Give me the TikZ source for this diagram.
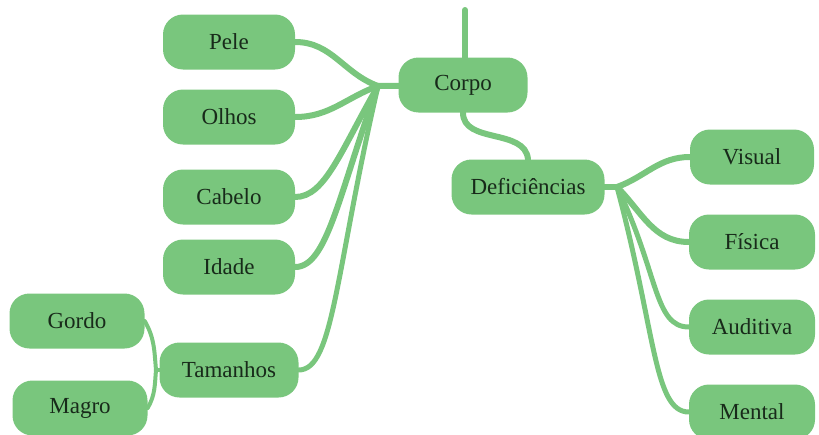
\documentclass[tikz,border=0pt]{standalone}
\usepackage{fontspec}
\setmainfont{Liberation Serif}
\usetikzlibrary{backgrounds}
\definecolor{leafgreen}{RGB}{121,198,125}
\definecolor{inkgreen}{RGB}{24,42,26}

\begin{document}
\begin{tikzpicture}[x=1pt,y=-1pt,node distance=85pt,
  topic/.style={rectangle,rounded corners=20pt,fill=leafgreen,text=inkgreen,
    minimum width=132pt,minimum height=55pt,inner sep=0pt,font=\fontsize{23}{25}\selectfont},
  branch/.style={draw=leafgreen,line width=6pt,line cap=round},
  twig/.style={draw=leafgreen,line width=4pt,line cap=round}]
\useasboundingbox (0,0) rectangle (819,434);
\node[topic,minimum width=129pt]	(corpo)		at (463,85)	{Corpo};
\node[topic]				(pele)		at (229,42)	{Pele};
\node[topic]	(olhos)		[below of=pele,node distance=75pt]	{Olhos};
\node[topic]	(cabelo)	[below of=olhos,node distance=80pt]	{Cabelo};
\node[topic]	(idade)		[below of=cabelo,node distance=70pt]	{Idade};
\node[topic,minimum width=139pt]	(tamanhos)	[below of=idade,node distance=103pt]	{Tamanhos};
\node[topic,minimum width=135pt]	(gordo)		at (77,321)	{Gordo};
\node[topic,minimum width=135pt]	(magro)		at (80,408)	{Magro};
\node[topic,minimum width=153pt]	(deficiencias)	at (528,187)	{Deficiências};
\node[topic,minimum width=124pt]	(visual)	at (752,157)	{Visual};
\node[topic,minimum width=126pt]	(fisica)	[below of=visual]	{Física};
\node[topic,minimum width=126pt]	(auditiva)	[below of=fisica]	{Auditiva};
\node[topic,minimum width=126pt]	(mental)	[below of=auditiva]	{Mental};
\coordinate (top)	at (465,10);
\coordinate (chub)	at (378,86);
\coordinate (dhub)	at (617,187);
\coordinate (thub)	at (156,370);
\begin{scope}[on background layer]
\draw[branch]	(top) -- (top |- corpo.center);
\draw[branch]	(corpo.center) -- (chub);
\draw[branch]	(deficiencias.center) -- (dhub);
\draw[branch]	(corpo.south) to[out=-90,in=95] (deficiencias.north);
\path[branch]	(chub)	edge[out=160,in=0]	(pele.east)
			edge[out=200,in=0]	(olhos.east)
			edge[out=-120,in=0,out distance=75pt,in distance=30pt]	(cabelo.east)
			edge[out=-110,in=0,out distance=115pt,in distance=32pt]	(idade.east)
			edge[out=-103,in=0,out distance=190pt,in distance=35pt,line width=5pt]	(tamanhos.east)
		(dhub)	edge[out=20,in=180]	(visual.west)
			edge[out=-45,in=180]	(fisica.west)
			edge[out=-64,in=180,out distance=95pt,in distance=35pt,line width=5pt]	(auditiva.west)
			edge[out=-75,in=180,out distance=150pt,in distance=35pt,line width=5pt]	(mental.west);
\draw[twig]	(tamanhos.center) -- (thub);
\path[twig]	(thub)	edge[out=95,in=-60]	(gordo.east)
			edge[out=-95,in=60]	(magro.east);
\end{scope}
\end{tikzpicture}
\end{document}
